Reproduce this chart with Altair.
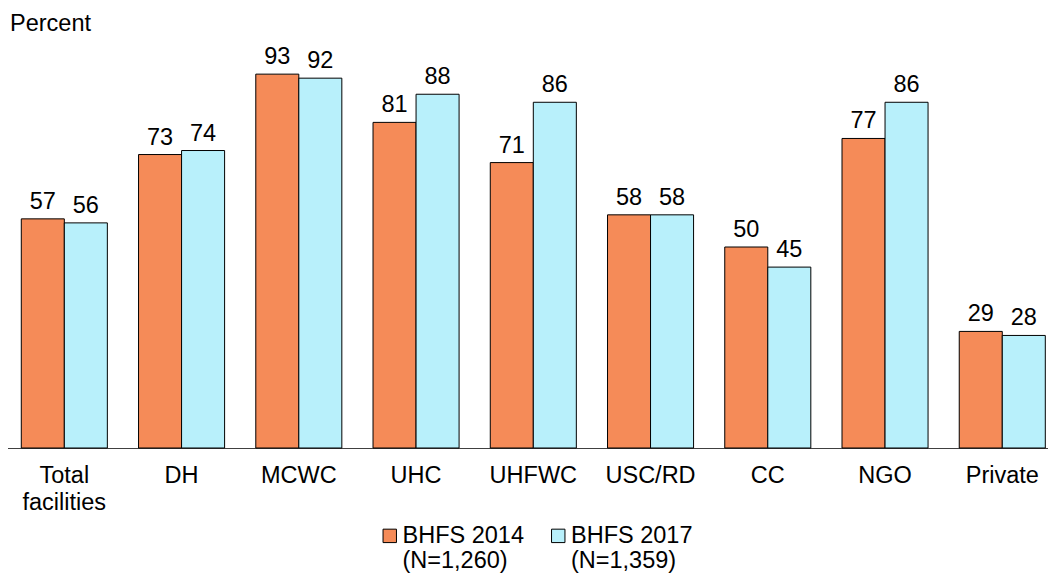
import altair as alt
import pandas as pd

categories = ["Total facilities", "DH", "MCWC", "UHC", "UHFWC", "USC/RD", "CC", "NGO", "Private"]
series = ["BHFS 2014|(N=1,260)", "BHFS 2017|(N=1,359)"]
v2014 = [57, 73, 93, 81, 71, 58, 50, 77, 29]
v2017 = [56, 74, 92, 88, 86, 58, 45, 86, 28]
colors = ["#F58B58", "#B8F0FB"]

rows = []
for c, a, b in zip(categories, v2014, v2017):
    rows.append({"cat": c, "series": series[0], "value": a})
    rows.append({"cat": c, "series": series[1], "value": b})
df = pd.DataFrame(rows)

FONT = "Liberation Sans"
FS = 23.5

x = alt.X(
    "cat:N",
    sort=categories,
    scale=alt.Scale(range=[-2.3, 1052.9], paddingInner=0.266, paddingOuter=0.133),
    axis=alt.Axis(
        title=None,
        labelAngle=0,
        labelFontSize=FS,
        labelFont=FONT,
        labelColor="#000000",
        labelPadding=15,
        labelLineHeight=27,
        labelBaseline="top",
        labelExpr="split(datum.label, ' ')",
        ticks=False,
        domainColor="#404040",
        domainWidth=1,
        grid=False,
    ),
)
xo = alt.XOffset("series:N", sort=series)
y = alt.Y(
    "value:Q",
    scale=alt.Scale(domain=[0, 100], nice=False),
    axis=alt.Axis(
        title="Percent",
        labels=False,
        ticks=False,
        domain=False,
        grid=False,
        titleAngle=0,
        titleAlign="left",
        titleBaseline="alphabetic",
        titleX=1.5,
        titleY=-16,
        titleFontSize=FS,
        titleFont=FONT,
        titleFontWeight="normal",
        titleColor="#000000",
    ),
)

bars = alt.Chart(df).mark_bar(stroke="#000000", strokeWidth=1).encode(
    x=x,
    xOffset=xo,
    y=y,
    color=alt.Color(
        "series:N",
        sort=series,
        scale=alt.Scale(domain=series, range=colors),
        legend=alt.Legend(
            title=None,
            orient="none",
            legendX=370,
            legendY=478,
            direction="horizontal",
            symbolType="square",
            symbolSize=180,
            symbolStrokeColor="#000000",
            symbolStrokeWidth=1,
            symbolOpacity=1,
            labelFontSize=FS,
            labelFont=FONT,
            labelColor="#000000",
            labelBaseline="middle",
            labelOffset=1,
            labelLimit=300,
            columnPadding=22.5,
            padding=0,
            labelExpr="split(datum.label, '|')",
        ),
    ),
)

labels = alt.Chart(df).mark_text(
    baseline="alphabetic", dy=-10, fontSize=FS, font=FONT, color="#000000"
).encode(x=x, xOffset=xo, y=y, text=alt.Text("value:Q"))

chart = (
    alt.layer(bars, labels)
    .properties(
        width=1040,
        height=402,
        padding={"left": 0, "top": 38, "right": 0, "bottom": 130},
        autosize=alt.AutoSizeParams(type="none"),
    )
    .configure_view(stroke=None)
)

chart.save("out.html", embed_options={"renderer": "svg", "actions": False})
